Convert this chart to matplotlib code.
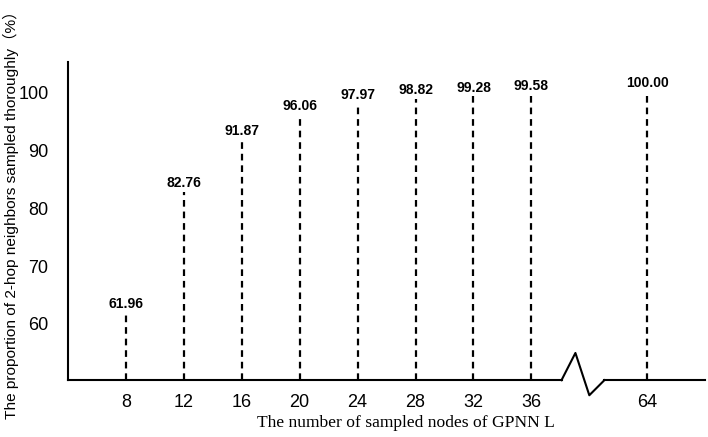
import matplotlib
matplotlib.use("Agg")
import matplotlib.pyplot as plt

# data
nodes = ["8", "12", "16", "20", "24", "28", "32", "36", "64"]
proportion = [61.96, 82.76, 91.87, 96.06, 97.97, 98.82, 99.28, 99.58, 100.00]
positions = [0, 1, 2, 3, 4, 5, 6, 7, 9]   # gap before 64 for the axis break
yticks = [60, 70, 80, 90, 100]

plt.rcParams["font.family"] = ["Liberation Sans", "Noto Sans CJK SC", "DejaVu Sans"]

fig = plt.figure(figsize=(7.08, 4.37), dpi=100)
ax = fig.add_axes([0.096, 0.130, 0.90, 0.728])
ymin, ymax = 50.3, 105.2
ax.set_xlim(-1.0, 10.0)
ax.set_ylim(ymin, ymax)

# dashed stems with value labels
for x, v in zip(positions, proportion):
    ax.plot([x, x], [ymin, v], "k--", lw=1.6, dashes=(3, 2.2))
    ax.text(x, v + 0.3, f"{v:.2f}", ha="center", va="bottom",
            fontsize=10, fontweight="bold")

# x axis with break zigzag
lw = 1.5
ax.plot([-1.0, 7.52], [ymin, ymin], "k-", lw=lw, clip_on=False)
ax.plot([7.52, 7.76, 8.0, 8.26], [ymin, 55.0, 47.7, ymin], "k-", lw=lw, clip_on=False)
ax.plot([8.26, 10.0], [ymin, ymin], "k-", lw=lw, clip_on=False)

for s in ["top", "right", "bottom"]:
    ax.spines[s].set_visible(False)
ax.spines["left"].set_linewidth(lw)

ax.set_xticks(positions)
ax.set_xticklabels(nodes, fontsize=13)
ax.set_yticks(yticks)
ax.set_yticklabels([str(t) for t in yticks], fontsize=13)
ax.tick_params(axis="y", length=0, pad=14)
ax.tick_params(axis="x", length=0, pad=10)

ax.set_xlabel("The number of sampled nodes of GPNN L", fontsize=12.6,
              family="Liberation Serif")
ax.xaxis.set_label_coords(0.53, -0.11)
ax.set_ylabel("The proportion of 2-hop neighbors sampled thoroughly（%）", fontsize=11.1)
ax.yaxis.set_label_coords(-0.077, 0.53)

fig.savefig("out.png", dpi=100)
